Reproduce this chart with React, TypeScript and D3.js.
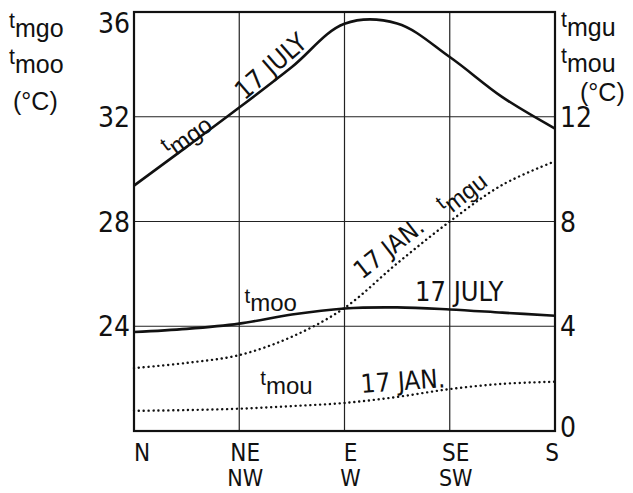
import * as d3 from "d3";

// positions along the orientation axis, 0 = N ... 4 = S, half steps in between
const pos = [0, 0.5, 1, 1.5, 2, 2.5, 3, 3.5, 4];
const dirTop = ["N", "NE", "E", "SE", "S"];
const dirBottom = ["", "NW", "W", "SW", ""];
const leftTicks = [24, 28, 32, 36];
const rightTicks = [0, 4, 8, 12];

// 17 JULY, left axis
const tmgo = [29.37, 30.85, 32.35, 33.9, 35.55, 35.56, 34.28, 32.75, 31.55];
const tmoo = [23.78, 23.9, 24.1, 24.45, 24.68, 24.72, 24.64, 24.52, 24.4];
// 17 JAN, right axis
const tmgu = [2.4, 2.6, 2.9, 3.6, 4.7, 6.4, 8.0, 9.4, 10.3];
const tmou = [0.77, 0.8, 0.85, 0.95, 1.07, 1.3, 1.6, 1.8, 1.88];

const W = 633;
const H = 493;
const m = { left: 134, right: 555, top: 12, bottom: 431 };
const font = "'Liberation Sans Narrow', 'DejaVu Sans Condensed', 'Liberation Sans', sans-serif";
const sub = "'Liberation Sans', sans-serif";

function Tsub({ x, y, s, size = 25, rotate = 0 }: { x: number; y: number; s: string; size?: number; rotate?: number }) {
  return (
    <text x={x} y={y} transform={rotate ? `rotate(${rotate},${x},${y})` : undefined} fontFamily={sub} fontSize={size} fill="#111">
      <tspan fontSize={size * 0.85}>t</tspan>
      <tspan dy={size * 0.36}>{s}</tspan>
    </text>
  );
}

export default function App() {
  const x = d3.scaleLinear().domain([0, 4]).range([m.left, m.right]);
  const yl = d3.scaleLinear().domain([20, 36]).range([m.bottom, m.top]);
  const yr = d3.scaleLinear().domain([0, 16]).range([m.bottom, m.top]);

  const lineL = d3
    .line<number>()
    .x((_, i) => x(pos[i]))
    .y((d) => yl(d))
    .curve(d3.curveCatmullRom);
  const lineR = d3
    .line<number>()
    .x((_, i) => x(pos[i]))
    .y((d) => yr(d))
    .curve(d3.curveCatmullRom);

  return (
    <svg width={W} height={H} style={{ position: "absolute", left: 0, top: 0, background: "#fff" }}>
      {/* grid */}
      {[1, 2, 3].map((v) => (
        <line key={"v" + v} x1={x(v)} x2={x(v)} y1={m.top} y2={m.bottom} stroke="#222" strokeWidth={1.2} />
      ))}
      {leftTicks.slice(0, 3).map((v) => (
        <line key={"h" + v} x1={m.left} x2={m.right} y1={yl(v)} y2={yl(v)} stroke="#222" strokeWidth={1.2} />
      ))}
      <rect x={m.left} y={m.top} width={m.right - m.left} height={m.bottom - m.top} fill="none" stroke="#111" strokeWidth={2.2} />

      {/* curves */}
      <path d={lineL(tmgo) ?? ""} fill="none" stroke="#111" strokeWidth={2.6} />
      <path d={lineL(tmoo) ?? ""} fill="none" stroke="#111" strokeWidth={2.6} />
      <path d={lineR(tmgu) ?? ""} fill="none" stroke="#111" strokeWidth={2.4} strokeDasharray="0.1 4.8" strokeLinecap="round" />
      <path d={lineR(tmou) ?? ""} fill="none" stroke="#111" strokeWidth={2.4} strokeDasharray="0.1 4.8" strokeLinecap="round" />

      {/* left ticks */}
      {leftTicks.map((v) => (
        <text key={"l" + v} x={m.left - 4} y={Math.max(yl(v), m.top + 11)} dy="0.36em" textAnchor="end" fontFamily={font} fontSize={28} fill="#111">
          {v}
        </text>
      ))}
      {/* right ticks */}
      {rightTicks.map((v) => (
        <text key={"r" + v} x={m.right + 5} y={yr(v) - (v === 0 ? 4 : 0)} dy="0.36em" fontFamily={font} fontSize={28} fill="#111">
          {v}
        </text>
      ))}
      {/* bottom labels */}
      {dirTop.map((d, i) => (
        <text
          key={"d" + i}
          x={i === 0 ? m.left : i === 4 ? m.right + 4 : x(i) + 6}
          y={461}
          textAnchor={i === 0 ? "start" : i === 4 ? "end" : "middle"}
          fontFamily={font}
          fontSize={24}
          fill="#111"
        >
          {d}
        </text>
      ))}
      {dirBottom.map((d, i) => (
        <text key={"b" + i} x={x(i) + 6} y={486} textAnchor="middle" fontFamily={font} fontSize={23} fill="#111">
          {d}
        </text>
      ))}

      {/* axis titles */}
      <Tsub x={9} y={28} s="mgo" />
      <Tsub x={9} y={64} s="moo" />
      <text x={13} y={110} fontFamily={sub} fontSize={25} fill="#111">(°C)</text>
      <Tsub x={561} y={27} s="mgu" />
      <Tsub x={561} y={63} s="mou" />
      <text x={580} y={101} fontFamily={sub} fontSize={25} fill="#111">(°C)</text>

      {/* curve labels */}
      <Tsub x={x(0.31)} y={yl(30.65)} s="mgo" size={24} rotate={-36} />
      <text x={x(1.05)} y={yl(32.6)} transform={`rotate(-41,${x(1.05)},${yl(32.6)})`} fontFamily={font} fontSize={26} fill="#111">
        17 JULY
      </text>
      <Tsub x={x(1.05)} y={yl(24.9)} s="moo" size={24} />
      <text x={x(2.67)} y={yl(24.95)} fontFamily={font} fontSize={27} fill="#111">17 JULY</text>
      <text x={x(2.166)} y={yr(5.77)} transform={`rotate(-38,${x(2.166)},${yr(5.77)})`} fontFamily={font} fontSize={25} fill="#111">
        17 JAN.
      </text>
      <Tsub x={x(2.93)} y={yr(8.44)} s="mgu" size={24} rotate={-38} />
      <Tsub x={x(1.2)} y={yr(1.75)} s="mou" size={24} />
      <text x={x(2.16)} y={yr(1.45)} transform={`rotate(-4,${x(2.16)},${yr(1.45)})`} fontFamily={font} fontSize={26} fill="#111">
        17 JAN.
      </text>
    </svg>
  );
}
